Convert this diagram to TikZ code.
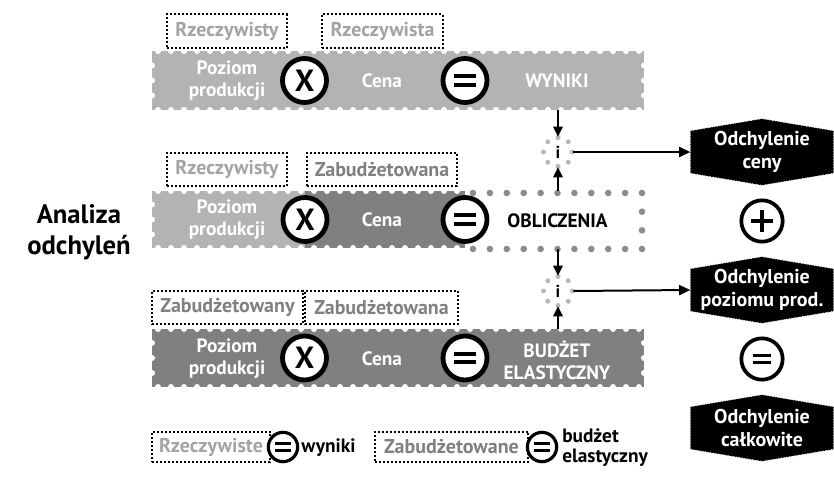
\documentclass[tikz,border=0pt]{standalone}
\usepackage{fontspec}
\setmainfont{PT Sans}
\usetikzlibrary{arrows.meta,calc,backgrounds}

\definecolor{lightband}{HTML}{B3B3B3}
\definecolor{darkband}{HTML}{808080}
\definecolor{lighttext}{HTML}{A3A3A3}
\definecolor{darktext}{HTML}{808080}
\definecolor{ringdot}{HTML}{B8B8B8}
\definecolor{boxdot}{HTML}{8C8C8C}

\tikzset{
  txt/.style={font=\bfseries\fontsize{14.5}{16.5}\selectfont},
  title/.style={font=\bfseries\fontsize{20}{23}\selectfont, align=center},
  bandbox/.style={rectangle, inner sep=0pt, draw=none},
  bandtext/.style={txt, text=white, align=center},
  tagbox/.style={font=\bfseries\fontsize{15}{17}\selectfont, draw=black, line width=1.5pt,
    dash pattern=on 1.5pt off 1.5pt, minimum height=25pt, inner sep=0pt},
  opc/.style={circle, draw=black, fill=white, line width=3.6pt, minimum size=33pt,
    inner sep=0pt, font=\bfseries\fontsize{23}{23}\selectfont},
  sumc/.style={circle, draw=black, fill=white, line width=2.8pt, minimum size=31pt, inner sep=0pt},
  legc/.style={circle, draw=black, fill=white, line width=2.4pt, minimum size=22pt, inner sep=0pt},
  inode/.style={circle, minimum size=22.5pt, inner sep=0pt, font=\bfseries\fontsize{13}{13}\selectfont},
  devtext/.style={font=\bfseries\fontsize{15}{17}\selectfont, text=white, align=center,
    minimum width=107pt, minimum height=31.5pt, inner sep=0pt},
  varr/.style={-{Triangle[length=7.5pt,width=7pt]}, line width=1.2pt},
  harr/.style={-{Triangle[length=8.5pt,width=7.5pt]}, line width=1.5pt},
  eqbars/.pic={\fill (-8.25pt,1.6pt) rectangle (8.25pt,4.6pt);
               \fill (-8.25pt,-1.6pt) rectangle (8.25pt,-4.6pt);},
  plusbars/.pic={\fill (-8.5pt,-1.25pt) rectangle (8.5pt,1.25pt);
                 \fill (-1.25pt,-8.5pt) rectangle (1.25pt,8.5pt);},
}

\begin{document}
\begin{tikzpicture}[x=0.75pt,y=-0.75pt]
\useasboundingbox (0,0) rectangle (834,492);

% heading
\node[title] (head) at (79,232) {Analiza\\odchyleń};

% ---------- row 1: actual results ----------
\node[bandbox, fill=lightband, minimum width=369pt, minimum height=44.25pt] (band1) at (398,80.5) {};
\foreach \x in {158,171,...,645} {
  \fill[white] (\x,51) circle (3); \fill[white] (\x,110) circle (3);
}
\foreach \y in {65.5,80.5,95.5} {
  \fill[white] (152,\y) circle (3); \fill[white] (644,\y) circle (3);
}
\node[tagbox, text=lighttext, minimum width=90pt] (r1a) at (227,31) {Rzeczywisty};
\node[tagbox, text=lighttext, minimum width=90.75pt] (r1b) at (382.5,31) {Rzeczywista};
\node[bandtext] (p1) at (227,81) {Poziom\\produkcji};
\node[opc] (x1) at (304.5,80.5) {X};
\node[bandtext] (c1) at (382,81) {Cena};
\node[opc] (e1) at (465,80.5) {};
\pic at (e1.center) {eqbars};
\node[bandtext] (w1) at (557,81) {WYNIKI};

% ---------- row 2: calculation ----------
\node[bandbox, fill=lightband, minimum width=234.75pt, minimum height=42.75pt] (band2) at (308.5,219.5) {};
\coordinate (split2) at (305,219.5);
\fill[darkband] (split2 |- band2.north) rectangle (band2.south east);
\foreach \x in {158,171,...,460} {
  \fill[white] (\x,191) circle (3); \fill[white] (\x,248) circle (3);
}
\foreach \y in {204.5,219.5,234.5} { \fill[white] (152,\y) circle (3); }
\node[bandbox, minimum width=126.75pt, minimum height=42pt] (calcbox) at (557.5,221) {};
\foreach \k in {0,...,10} {
  \fill[boxdot] ({473+16.9*\k},193) circle (3.3);
  \fill[boxdot] ({473+16.9*\k},249) circle (3.3);
}
\fill[boxdot] (642,211.7) circle (3.3);
\fill[boxdot] (642,230.3) circle (3.3);
\node[txt] (obl) at (calcbox.center) {OBLICZENIA};
\node[tagbox, text=lighttext, minimum width=90pt] (r2a) at (227,169.5) {Rzeczywisty};
\node[tagbox, text=darktext, minimum width=112.5pt] (r2b) at (382,169.5) {Zabudżetowana};
\node[bandtext] (p2) at (227,220) {Poziom\\produkcji};
\node[opc] (x2) at (split2) {X};
\node[bandtext] (c2) at (382,220) {Cena};
\node[opc] (e2) at (465,219.5) {};
\pic at (e2.center) {eqbars};

% ---------- row 3: flexible budget ----------
\node[bandbox, fill=darkband, minimum width=369pt, minimum height=43.5pt] (band3) at (398,358) {};
\foreach \x in {158,171,...,645} {
  \fill[white] (\x,329) circle (3); \fill[white] (\x,387) circle (3);
}
\foreach \y in {343,358,373} {
  \fill[white] (152,\y) circle (3); \fill[white] (644,\y) circle (3);
}
\node[tagbox, text=darktext, minimum width=113.25pt] (z3a) at (227.5,307.5) {Zabudżetowany};
\node[tagbox, text=darktext, minimum width=114.75pt] (z3b) at (381.5,307.5) {Zabudżetowana};
\node[bandtext] (p3) at (227,359) {Poziom\\produkcji};
\node[opc] (x3) at (304.5,358) {X};
\node[bandtext] (c3) at (382,359) {Cena};
\node[opc] (e3) at (465,358) {};
\pic at (e3.center) {eqbars};
\node[bandtext] (b3) at (557,360) {BUDŻET\\ELASTYCZNY};

% ---------- difference markers ----------
\node[inode] (i1) at (558,152) {i};
\node[inode] (i2) at (558,291) {i};
\foreach \n in {i1,i2} {
  \foreach \a in {0,45,...,315} { \fill[ringdot] ($(\n)+(\a:14.5)$) circle (2.5); }
}

% ---------- variance boxes ----------
\node[devtext] (d1) at (762,152) {Odchylenie\\ceny};
\node[sumc] (pc) at (762,221) {};
\pic at (pc.center) {plusbars};
\node[devtext] (d2) at (762,290) {Odchylenie\\poziomu prod.};
\node[sumc] (qc) at (762,359) {};
\pic[scale=0.85] at (qc.center) {eqbars};
\node[devtext] (d3) at (762,428) {Odchylenie\\całkowite};
\begin{scope}[on background layer]
  \foreach \n in {d1,d2,d3} {
    \fill[black] (\n.south west) -- (\n.north west) -- ($(\n.north)+(0,9pt)$) --
      (\n.north east) -- (\n.south east) -- ($(\n.south)+(0,-9pt)$) -- cycle;
    \draw[white, line width=0.5pt, dash pattern=on 0.7pt off 1.3pt]
      (\n.south west) -- (\n.north west) -- ($(\n.north)+(0,9pt)$) --
      (\n.north east) -- (\n.south east) -- ($(\n.south)+(0,-9pt)$) -- cycle;
  }
\end{scope}

% ---------- connectors ----------
\draw[varr] (i1 |- band1.south) -- (i1.north);
\draw[varr] (i1 |- band2.north) -- (i1.south);
\draw[varr] (i2 |- calcbox.south) -- (i2.north);
\draw[varr] (i2 |- band3.north) -- (i2.south);
\draw[harr] (i1.east) -- (d1.west);
\draw[harr] (i2.east) -- (d2.west);

% ---------- legend ----------
\node[tagbox, text=lighttext, minimum width=88.5pt, minimum height=23pt] (l1) at (211,447) {Rzeczywiste};
\node[legc] (le1) at (283,447) {};
\pic[scale=0.75] at (le1.center) {eqbars};
\node[txt, anchor=west, inner sep=0pt] (lw1) at (301,448) {wyniki};
\node[tagbox, text=darktext, minimum width=114.75pt, minimum height=23pt] (l2) at (451.5,447) {Zabudżetowane};
\node[legc] (le2) at (542,447) {};
\pic[scale=0.75] at (le2.center) {eqbars};
\node[txt, anchor=west, align=left, inner sep=0pt, font=\bfseries\fontsize{14.5}{15}\selectfont] (lw2) at (562,448) {budżet\\elastyczny};
\end{tikzpicture}
\end{document}
